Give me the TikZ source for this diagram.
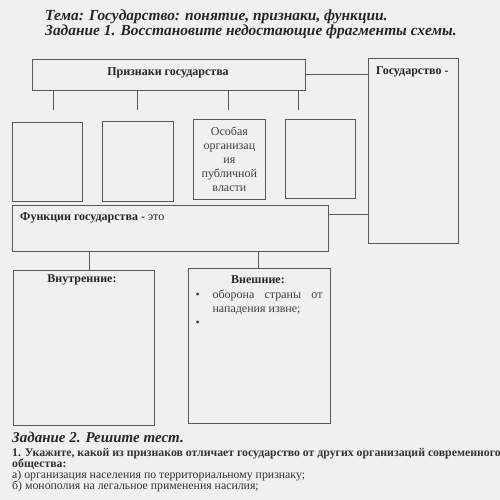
\documentclass[tikz,border=0pt]{standalone}
\usepackage{fontspec}
\setmainfont{Liberation Serif}
\usetikzlibrary{positioning}

\begin{document}
\begin{tikzpicture}[x=1pt, y=-1pt,
        box/.style={draw=black!65, line width=0.8pt, inner sep=0pt, anchor=north west},
        link/.style={draw=black!65, line width=0.8pt},
        boxtext/.style={font=\fontsize{12}{14}\selectfont, align=center, text=black!75},
        head/.style={font=\fontsize{12}{14}\selectfont\bfseries, text=black!85},
        title/.style={font=\fontsize{15.4}{16}\selectfont\bfseries\itshape, anchor=west, inner sep=0pt, text=black!85},
        task/.style={font=\fontsize{11.8}{13}\selectfont, anchor=west, inner sep=0pt, text=black!80}
    ]

        % page
        \fill[black!6] (0,0) rectangle (500,500);
        \useasboundingbox (0,0) rectangle (500,500);

        % Title
        \node[title] (topic) at (45,17) {Тема: Государство: понятие, признаки, функции.};
        \node[title] (task1) at (45,32) {Задание 1. Восстановите недостающие фрагменты схемы.};

        % Define boxes of the scheme
        \node[box, minimum width=273, minimum height=31] (signs) at (32,59) {};
        \node[head] at (168,73) {Признаки государства};
        \node[box, minimum width=90, minimum height=185] (state) at (368,58) {};
        \node[head, anchor=west, inner sep=0pt] at (376,72) {Государство -};

        \node[box, minimum width=70, minimum height=79] (sign1) at (12,122) {};
        \node[box, minimum width=71, minimum height=80] (sign2) at (102,121) {};
        \node[box, minimum width=72, minimum height=80] (sign3) at (193,119) {};
        \node[boxtext] at (sign3.center) {Особая\\организац\\ия\\публичной\\власти};
        \node[box, minimum width=70, minimum height=79] (sign4) at (285,119) {};

        \node[box, minimum width=316, minimum height=46] (func) at (12,205) {};
        \node[head, anchor=west, inner sep=0pt] at (20,218) {Функции государства - \mdseries это};

        \node[box, minimum width=141, minimum height=155] (inner) at (13,270) {};
        \node[head] at (82,280) {Внутренние:};
        \node[box, minimum width=142, minimum height=155] (outer) at (188,268) {};
        \node[head] at (258,280) {Внешние:};
        \node[boxtext, align=left, anchor=north west] (list) at (192,286)
            {\makebox[17pt][l]{•}\makebox[110pt][s]{оборона страны от}\\
             \hspace*{17pt}нападения извне;\\
             •};

        % Connectors
        \draw[link] (signs.east) -- (signs.east -| state.west);
        \draw[link] ([yshift=-9pt]func.north east) -- ([yshift=-9pt]func.north east -| state.west);
        \foreach \x/\n in {53/1, 137/2, 228/3, 298/4} {
            \coordinate (tick\n) at (\x,110);
            \draw[link] (signs.south -| tick\n) -- (tick\n);
        }
        \draw[link] (func.south -| 89,0) -- (inner.north -| 89,0);
        \draw[link] (func.south -| 258,0) -- (outer.north -| 258,0);

        % Task 2
        \node[title, font=\fontsize{15}{16}\selectfont\bfseries\itshape] (task2) at (12,437) {Задание 2. Решите тест.};
        \node[task, font=\fontsize{11.8}{13}\selectfont\bfseries] (q1) at (12,453.5)
            {1. Укажите, какой из признаков отличает государство от других организаций современного};
        \node[task, font=\fontsize{11.8}{13}\selectfont\bfseries] (q1b) at (12,464.5) {общества:};
        \node[task] (qa) at (12,475.5) {а) организация населения по территориальному признаку;};
        \node[task] (qb) at (12,486.5) {б) монополия на легальное применения насилия;};

    \end{tikzpicture}
\end{document}
